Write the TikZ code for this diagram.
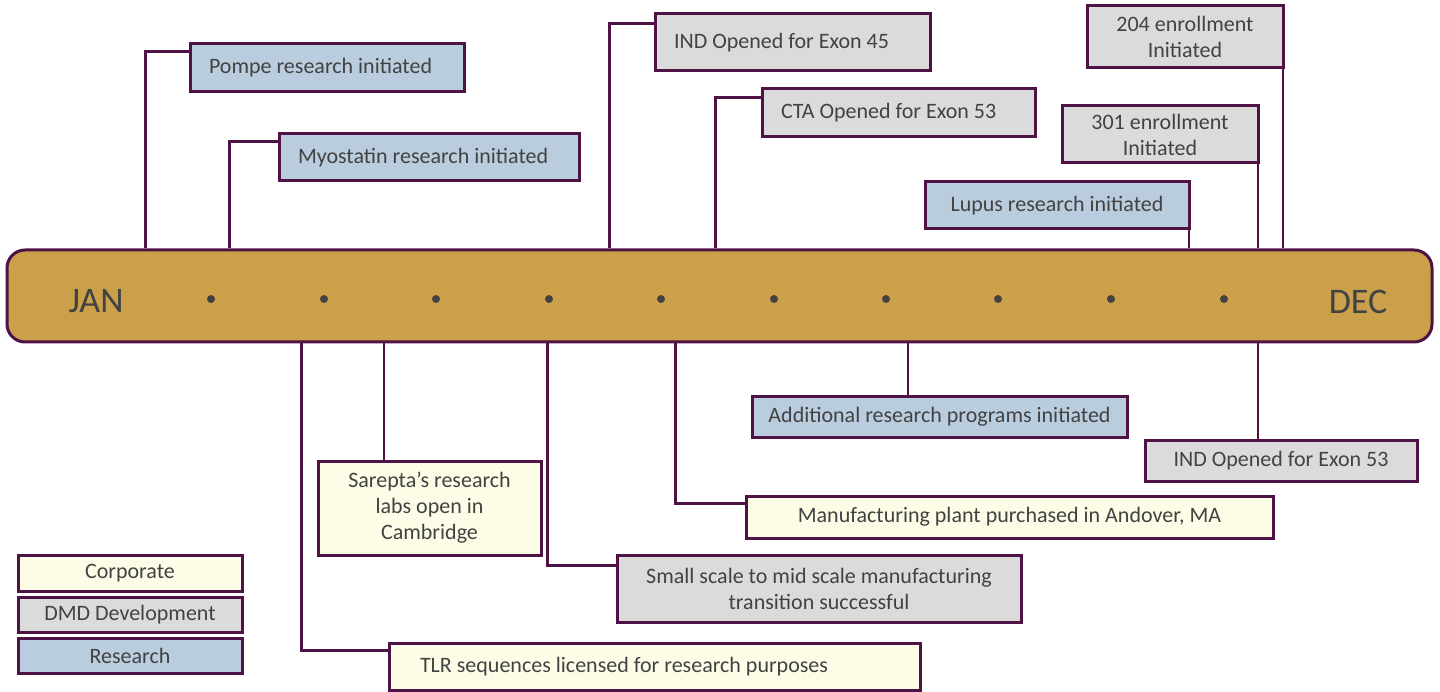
\documentclass[tikz,border=0pt]{standalone}
\usepackage{fontspec}
\setmainfont{Carlito}
\usetikzlibrary{calc}

\definecolor{edgepurple}{RGB}{78,18,68}
\definecolor{barfill}{RGB}{202,161,74}
\definecolor{resfill}{RGB}{186,205,222}
\definecolor{dmdfill}{RGB}{219,219,219}
\definecolor{corpfill}{RGB}{253,253,231}
\definecolor{txtgray}{RGB}{66,66,66}

\tikzset{
  evbox/.style={draw=edgepurple, line width=3pt, inner sep=0pt, align=center,
    text=txtgray, font=\fontsize{22}{26}\selectfont},
  resbox/.style={evbox, fill=resfill},
  dmdbox/.style={evbox, fill=dmdfill},
  corpbox/.style={evbox, fill=corpfill},
  lefttext/.style={align=flush left, inner xsep=19pt, text width=#1},
  link/.style={draw=edgepurple, line width=2.5pt}
}

\begin{document}
\begin{tikzpicture}[x=1pt,y=-1pt]
\useasboundingbox (0,0) rectangle (1440,692);

%Timeline bar
\node (bar) [draw=edgepurple, line width=3pt, fill=barfill, rounded corners=18pt,
  minimum width=1425pt, minimum height=92pt, inner sep=0pt] at (719.5,296) {};
\node (jan) [text=txtgray, font=\fontsize{36}{36}\selectfont] at (96,301) {JAN};
\node (dec) [text=txtgray, font=\fontsize{36}{36}\selectfont] at (1358,302) {DEC};
\foreach \x in {211,324,436,549,661,774,886,998,1111,1224}
  \fill [txtgray] (\x,299) circle (4pt);

%Above the bar
\node (pompe) [resbox, lefttext=236pt, minimum width=274pt, minimum height=48pt] at (327,68) {Pompe research initiated};
\node (myostatin) [resbox, lefttext=262pt, minimum width=300pt, minimum height=47pt] at (429,157.5) {Myostatin research initiated};
\node (ind45) [dmdbox, lefttext=237pt, minimum width=275pt, minimum height=57pt] at (792.5,42.5) {IND Opened for Exon 45};
\node (cta) [dmdbox, lefttext=235pt, minimum width=273pt, minimum height=48pt] at (898.5,113) {CTA Opened for Exon 53};
\node (e204) [dmdbox, minimum width=196pt, minimum height=62pt] at (1185,37) {204 enrollment\\Initiated};
\node (e301) [dmdbox, minimum width=196pt, minimum height=57pt] at (1160,134.5) {301 enrollment\\Initiated};
\node (lupus) [resbox, minimum width=264pt, minimum height=47pt] at (1057,205.5) {Lupus research initiated};

%Below the bar
\node (tlr) [corpbox, lefttext=469pt, inner xsep=31pt, minimum width=531pt, minimum height=47pt] at (654.5,666.5) {TLR sequences licensed for research purposes};
\node (sarepta) [corpbox, minimum width=223pt, minimum height=94pt] at (429.5,508) {Sarepta's research\\labs open in\\Cambridge};
\node (small) [dmdbox, minimum width=404pt, minimum height=67pt] at (819,588.5) {Small scale to mid scale manufacturing\\transition successful};
\node (andover) [corpbox, minimum width=527pt, minimum height=42pt] at (1009.5,517) {Manufacturing plant purchased in Andover, MA};
\node (additional) [resbox, minimum width=375pt, minimum height=41pt] at (939.5,416.5) {Additional research programs initiated};
\node (ind53) [dmdbox, minimum width=272pt, minimum height=41pt] at (1281,460.5) {IND Opened for Exon 53};

%Legend
\node (lcorp) [corpbox, minimum width=224pt, minimum height=36pt] at (130,573) {Corporate};
\node (ldmd) [dmdbox, minimum width=224pt, minimum height=35pt] at (130,614.5) {DMD Development};
\node (lres) [resbox, minimum width=224pt, minimum height=35pt] at (130,655.5) {Research};

%Links up
\draw [link] ([xshift=140pt]bar.north west) |- ([yshift=-9pt]pompe.north west);
\draw [link] ([xshift=224pt]bar.north west) |- ([yshift=-9pt]myostatin.north west);
\draw [link] ([xshift=604pt]bar.north west) |- ([yshift=-11pt]ind45.north west);
\draw [link] ([xshift=710pt]bar.north west) |- ([yshift=-10pt]cta.north west);
\draw [link] ([xshift=-1.5pt]e204.south east) -- ([xshift=-1.5pt]e204.south east |- bar.north);
\draw [link] ([xshift=-1.5pt]e301.south east) -- ([xshift=-1.5pt]e301.south east |- bar.north);
\draw [link] ([xshift=-1.5pt]lupus.south east) -- ([xshift=-1.5pt]lupus.south east |- bar.north);

%Links down
\draw [link] ([xshift=296pt]bar.south west) |- ([yshift=-9pt]tlr.north west);
\draw [link] ([xshift=-45.5pt]sarepta.north) -- ([xshift=-45.5pt]sarepta.north |- bar.south);
\draw [link] ([xshift=542pt]bar.south west) |- ([yshift=-12pt]small.north west);
\draw [link] ([xshift=670pt]bar.south west) |- ([yshift=-9pt]andover.north west);
\draw [link] ([xshift=-31.5pt]additional.north) -- ([xshift=-31.5pt]additional.north |- bar.south);
\draw [link] ([xshift=-23pt]ind53.north) -- ([xshift=-23pt]ind53.north |- bar.south);

\end{tikzpicture}
\end{document}
